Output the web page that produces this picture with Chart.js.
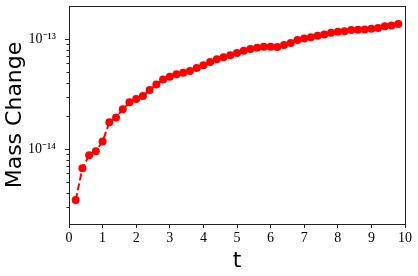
<!DOCTYPE html>
<html>
<head>
<meta charset="utf-8">
<script src="https://cdn.jsdelivr.net/npm/chart.js@4"></script>
<style>
    body { margin: 0; background: #fff; }
    #wrap { width: 418px; height: 276px; }
</style>
</head>
<body>
<div id="wrap"><canvas id="graph" width="418" height="276"></canvas></div>
<script>
// time values (t) and mass change
const tValues = [0.2, 0.4, 0.6, 0.8, 1.0, 1.2, 1.4, 1.6, 1.8, 2.0,
    2.2, 2.4, 2.6, 2.8, 3.0, 3.2, 3.4, 3.6, 3.8, 4.0,
    4.2, 4.4, 4.6, 4.8, 5.0, 5.2, 5.4, 5.6, 5.8, 6.0,
    6.2, 6.4, 6.6, 6.8, 7.0, 7.2, 7.4, 7.6, 7.8, 8.0,
    8.2, 8.4, 8.6, 8.8, 9.0, 9.2, 9.4, 9.6, 9.8];
const massChange = [3.44e-15, 6.68e-15, 8.76e-15, 9.53e-15, 1.17e-14, 1.75e-14, 1.94e-14, 2.30e-14, 2.66e-14, 2.85e-14,
    3.03e-14, 3.44e-14, 3.87e-14, 4.30e-14, 4.54e-14, 4.78e-14, 4.94e-14, 5.12e-14, 5.45e-14, 5.77e-14,
    6.18e-14, 6.54e-14, 6.82e-14, 7.12e-14, 7.49e-14, 7.83e-14, 8.11e-14, 8.33e-14, 8.51e-14, 8.51e-14,
    8.46e-14, 8.82e-14, 9.20e-14, 9.79e-14, 1.015e-13, 1.04e-13, 1.07e-13, 1.10e-13, 1.14e-13, 1.165e-13,
    1.18e-13, 1.21e-13, 1.215e-13, 1.225e-13, 1.24e-13, 1.26e-13, 1.31e-13, 1.33e-13, 1.37e-13];
const xTicks = [0, 1, 2, 3, 4, 5, 6, 7, 8, 9, 10];
const yMin = 2.08e-15;
const yMax = 2.0e-13;

const SUP = {'-': '\u207B', '0': '\u2070', '1': '\u00B9', '2': '\u00B2', '3': '\u00B3', '4': '\u2074',
    '5': '\u2075', '6': '\u2076', '7': '\u2077', '8': '\u2078', '9': '\u2079'};

function decade(v) {
    const e = Math.round(Math.log10(v));
    return Math.abs(v / Math.pow(10, e) - 1) < 1e-6 ? e : null;
}

// box around the plot and log ticks (longer on decades)
const frame = {
    id: 'frame',
    afterDraw(chart) {
        const ctx = chart.ctx;
        const a = chart.chartArea;
        const y = chart.scales.y;
        ctx.save();
        ctx.strokeStyle = '#222';
        ctx.lineWidth = 1;
        y.ticks.forEach(t => {
            const py = Math.round(y.getPixelForValue(t.value)) + 0.5;
            const len = decade(t.value) !== null ? 4 : 2.5;
            ctx.beginPath();
            ctx.moveTo(a.left, py);
            ctx.lineTo(a.left - len, py);
            ctx.stroke();
        });
        ctx.strokeRect(Math.round(a.left) + 0.5, Math.round(a.top) + 0.5,
            Math.round(a.right - a.left), Math.round(a.bottom - a.top));
        ctx.restore();
    }
};

const data = tValues.map((t, i) => ({x: t, y: massChange[i]}));

new Chart(document.getElementById('graph'), {
    type: 'line',
    data: {
        datasets: [{
            data: data,
            borderColor: '#ff0000',
            backgroundColor: '#ff0000',
            pointBackgroundColor: '#ff0000',
            pointBorderWidth: 0,
            pointRadius: 4,
            borderWidth: 2,
            borderDash: [7, 3],
            tension: 0
        }]
    },
    options: {
        responsive: false,
        animation: false,
        layout: {padding: {left: 0, right: 13, top: 6, bottom: 0}},
        plugins: {legend: {display: false}, tooltip: {enabled: false}},
        scales: {
            x: {
                type: 'linear',
                min: 0,
                max: 10,
                afterBuildTicks: s => { s.ticks = xTicks.map(v => ({value: v})); },
                afterFit: s => { s.height = 52; s.paddingLeft = 0; s.paddingRight = 0; },
                grid: {display: true, drawOnChartArea: false, tickLength: 4, color: '#222', tickColor: '#222'},
                border: {display: false},
                ticks: {
                    color: '#000',
                    padding: 2,
                    maxRotation: 0,
                    font: {family: 'Liberation Serif', size: 14}
                },
                title: {
                    display: true,
                    text: 't',
                    color: '#000',
                    font: {family: 'DejaVu Sans', size: 22},
                    padding: {top: 0, bottom: 2}
                }
            },
            y: {
                type: 'logarithmic',
                min: yMin,
                max: yMax,
                afterBuildTicks: s => {
                    const list = [];
                    for (let e = -15; e <= -13; e++) {
                        for (let m = 1; m <= 9; m++) {
                            const v = m * Math.pow(10, e);
                            if (v >= yMin && v < yMax) list.push({value: v});
                        }
                    }
                    s.ticks = list;
                },
                afterFit: s => { s.width = 69; s.paddingTop = 0; s.paddingBottom = 0; },
                grid: {display: false},
                border: {display: false},
                ticks: {
                    color: '#000',
                    padding: 5,
                    autoSkip: false,
                    font: {family: 'Liberation Serif', size: 14},
                    callback: v => {
                        const e = decade(v);
                        if (e === null) return '';
                        return '10' + String(e).split('').map(c => SUP[c]).join('');
                    }
                },
                title: {
                    display: true,
                    text: 'Mass Change',
                    color: '#000',
                    font: {family: 'DejaVu Sans', size: 22},
                    padding: {top: 2, bottom: 0}
                }
            }
        }
    },
    plugins: [frame]
});
</script>
</body>
</html>
